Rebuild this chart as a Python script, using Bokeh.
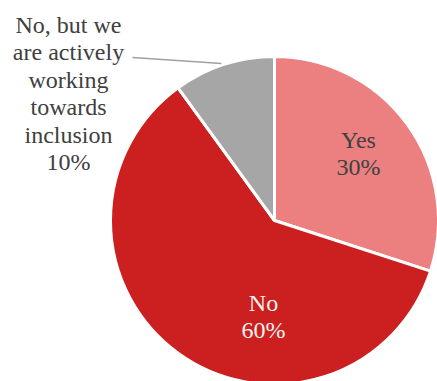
import math
from bokeh.plotting import figure
from bokeh.models import Range1d, ColumnDataSource
from bokeh.core.properties import value
from bokeh.embed import file_html
from bokeh.resources import INLINE

categories = ["Yes", "No", "No, but we are actively working towards inclusion"]
values = [30, 60, 10]
colors = ["#EC8080", "#CC1F1F", "#A6A6A6"]
label_texts = ["Yes\n30%", "No\n60%", "No, but we\nare actively\nworking\ntowards\ninclusion\n10%"]
label_colors = ["#404040", "#F2F2F2", "#404040"]

W, H = 437, 381
cx, cy, r = 274, H - 220, 164

total = sum(values)
starts, ends = [], []
acc = 0.0
for v in values:
    s = math.pi / 2 - acc / total * 2 * math.pi
    acc += v
    e = math.pi / 2 - acc / total * 2 * math.pi
    starts.append(s)
    ends.append(e)

p = figure(width=W, height=H, output_backend="svg", toolbar_location=None,
           x_range=Range1d(0, W), y_range=Range1d(0, H), min_border=0)
p.axis.visible = False
p.grid.visible = False
p.outline_line_color = None
p.background_fill_color = "white"

src = ColumnDataSource(dict(start=starts, end=ends, color=colors, cat=categories))
p.wedge(x=cx, y=cy, radius=r, start_angle="start", end_angle="end", direction="clock",
        fill_color="color", line_color="white", line_width=3, source=src)

# leader line for the small slice
p.line(x=[132, 221], y=[H - 57, H - 63], line_color="#A0A0A0", line_width=1.5)

lab_x = [358, 263, 68]
lab_y = [H - 126, H - 289, H - 11]
lsrc = ColumnDataSource(dict(x=lab_x, y=lab_y, t=label_texts, c=label_colors))
p.text(x="x", y="y", text="t", text_color="c", source=lsrc,
       text_font=value("Liberation Serif"), text_font_size="24px",
       text_align="center", text_baseline="top", text_line_height=1.06)

open("out.html", "w").write(file_html(p, INLINE))
